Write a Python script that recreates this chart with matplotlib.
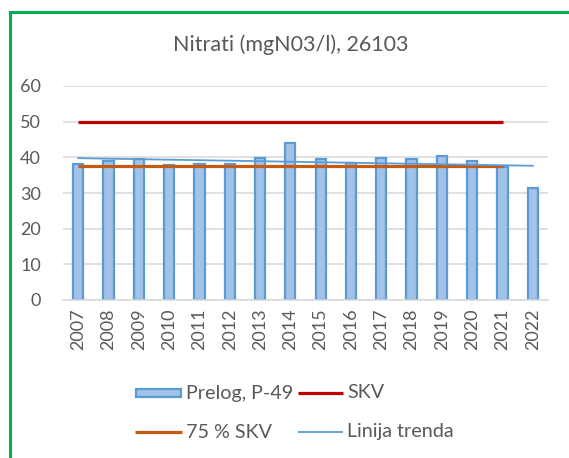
import numpy as np
import matplotlib
matplotlib.use("Agg")
import matplotlib.pyplot as plt
from matplotlib.patches import Rectangle
from matplotlib.lines import Line2D

years = ["2007", "2008", "2009", "2010", "2011", "2012", "2013", "2014",
         "2015", "2016", "2017", "2018", "2019", "2020", "2021", "2022"]
nitrati = [38.1, 38.9, 39.4, 37.9, 38.2, 38.2, 39.7, 43.9,
           39.4, 38.3, 39.8, 39.4, 40.4, 38.9, 37.4, 31.3]
skv = 50.0
skv75 = 0.75 * skv
yticks = [0, 10, 20, 30, 40, 50, 60]

TXT = "#595959"
BAR_FACE = "#a3c2e7"
BAR_EDGE = "#5b9bd5"
RED = "#c00000"
ORANGE = "#c55a11"
TREND = "#5b9bd5"
GRID = "#d9d9d9"

plt.rcParams["font.family"] = ["Lato", "DejaVu Sans"]

W, H = 569, 458
fig = plt.figure(figsize=(W / 100, H / 100), dpi=100)
fig.patch.set_facecolor("white")

def fx(px):
    return px / W

def fy(py):
    return 1 - py / H

ax = fig.add_axes([fx(63), fy(300), fx(548) - fx(63), fy(86) - fy(300)])

x = np.arange(len(years))
ax.bar(x, nitrati, width=0.34, color=BAR_FACE, edgecolor=BAR_EDGE,
       linewidth=1.6, zorder=2)

# limit lines span the years 2007-2021
ax.plot([x[0], x[-2]], [skv, skv], color=RED, lw=2.3, zorder=3,
        solid_capstyle="butt")
ax.plot([x[0], x[-2]], [skv75, skv75], color=ORANGE, lw=2.3, zorder=3,
        solid_capstyle="butt")

# linear trend over all years
k, b = np.polyfit(x, nitrati, 1)
ax.plot([x[0], x[-1]], [k * x[0] + b, k * x[-1] + b], color=TREND,
        lw=1.3, zorder=4)

ax.set_xlim(-0.5, len(years) - 0.5)
ax.set_ylim(0, 60)
ax.set_yticks(yticks)
ax.set_xticks(x)
ax.set_xticklabels(years, rotation=90)
ax.tick_params(axis="both", length=0, labelsize=13, labelcolor=TXT)
ax.tick_params(axis="x", pad=6)
ax.tick_params(axis="y", pad=16)
ax.yaxis.grid(True, color=GRID, lw=1.1, zorder=0)
ax.set_axisbelow(True)
for s in ["top", "right", "left"]:
    ax.spines[s].set_visible(False)
ax.spines["bottom"].set_color(GRID)
ax.spines["bottom"].set_linewidth(1.1)

fig.text(fx(291), fy(45), "Nitrati (mgN03/l), 26103", ha="center",
         va="center", fontsize=15.5, color=TXT)

# legend
LEG_FS = 14.2

def leg_line(x0, x1, y, color, lw):
    fig.add_artist(Line2D([fx(x0), fx(x1)], [fy(y), fy(y)],
                          transform=fig.transFigure, color=color, lw=lw,
                          solid_capstyle="butt"))

fig.add_artist(Rectangle((fx(136), fy(397)), fx(181) - fx(136),
                         fy(389) - fy(397), transform=fig.transFigure,
                         facecolor=BAR_FACE, edgecolor=BAR_EDGE, lw=1.6))
fig.text(fx(186), fy(393), "Prelog, P-49", va="center", ha="left",
         fontsize=LEG_FS, color=TXT)
leg_line(298, 343, 393, RED, 2.3)
fig.text(fx(347), fy(393), "SKV", va="center", ha="left",
         fontsize=LEG_FS, color=TXT)
leg_line(135, 182, 432, ORANGE, 2.3)
fig.text(fx(186), fy(432), "75 % SKV", va="center", ha="left",
         fontsize=LEG_FS, color=TXT)
leg_line(298, 343, 432, TREND, 1.3)
fig.text(fx(347), fy(432), "Linija trenda", va="center", ha="left",
         fontsize=LEG_FS, color=TXT)

# green frame around the chart area
fig.add_artist(Rectangle((fx(9.5), fy(470)), fx(600) - fx(9.5),
                         fy(11.5) - fy(470), transform=fig.transFigure,
                         facecolor="none", edgecolor="#00b050", lw=2.2,
                         clip_on=False))

fig.savefig("out.png", dpi=100, facecolor="white")
